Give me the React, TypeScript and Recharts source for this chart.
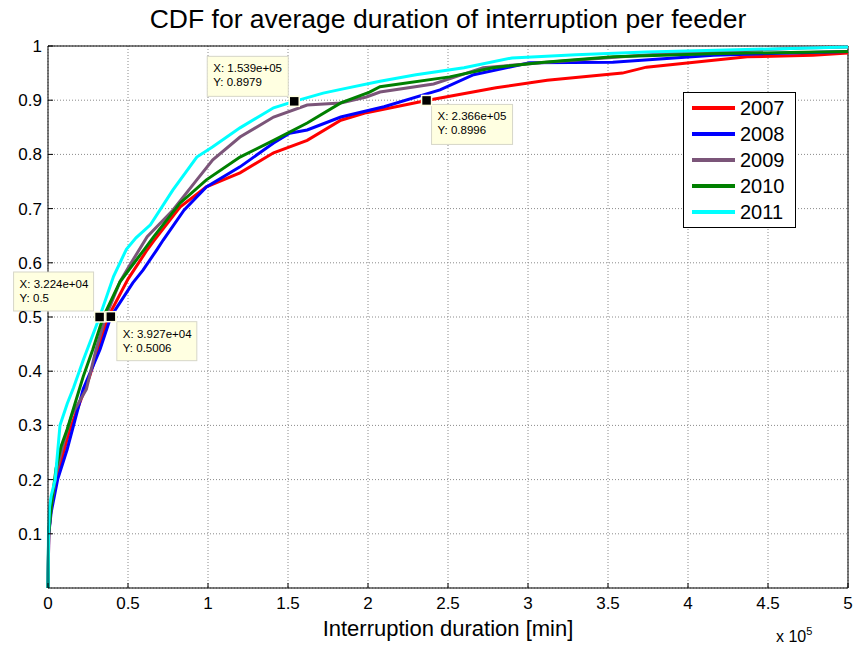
import React from "react";
import {
  LineChart, Line, XAxis, YAxis, CartesianGrid, ReferenceLine, ReferenceDot,
} from "recharts";

// durations in units of 1e5 min, cumulative probability
const years = ["2007", "2008", "2009", "2010", "2011"];
const colors = ["#ff0000", "#0000ff", "#7b5579", "#008000", "#00ffff"];

const cdf2007 = [
  [0, 0], [0.005, 0.1], [0.02, 0.15], [0.06, 0.21], [0.137, 0.293], [0.26, 0.39], [0.375, 0.5],
  [0.5, 0.57], [0.62, 0.624], [0.66, 0.64], [0.825, 0.703], [0.99, 0.74], [1.2, 0.766],
  [1.41, 0.803], [1.62, 0.826], [1.83, 0.863], [1.99, 0.877], [2.075, 0.882], [2.366, 0.8996],
  [2.8, 0.923], [3.12, 0.937], [3.59, 0.95], [3.74, 0.961], [4.37, 0.98], [4.78, 0.983], [5, 0.987],
];
const cdf2008 = [
  [0, 0], [0.005, 0.1], [0.02, 0.14], [0.06, 0.2], [0.12, 0.256], [0.22, 0.367], [0.325, 0.44],
  [0.3927, 0.5006], [0.53, 0.563], [0.595, 0.587], [0.68, 0.624], [0.72, 0.642], [0.85, 0.697],
  [0.99, 0.74], [1.2, 0.777], [1.41, 0.821], [1.51, 0.839], [1.62, 0.845], [1.83, 0.869],
  [2.1, 0.888], [2.45, 0.919], [2.66, 0.947], [3.01, 0.969], [3.53, 0.97], [4.16, 0.983], [5, 0.99],
];
const cdf2009 = [
  [0, 0], [0.004, 0.1], [0.02, 0.15], [0.05, 0.21], [0.1, 0.27], [0.15, 0.32], [0.24, 0.367],
  [0.3, 0.44], [0.36, 0.5], [0.45, 0.565], [0.52, 0.6], [0.62, 0.648], [0.78, 0.697],
  [0.93, 0.753], [1.03, 0.79], [1.2, 0.832], [1.41, 0.869], [1.62, 0.891], [1.83, 0.895],
  [1.99, 0.906], [2.075, 0.915], [2.41, 0.93], [2.72, 0.96], [3.12, 0.97], [3.8, 0.985],
  [4.78, 0.997], [5, 0.998],
];
const cdf2010 = [
  [0, 0], [0.004, 0.1], [0.02, 0.15], [0.05, 0.22], [0.08, 0.26], [0.12, 0.293], [0.22, 0.39],
  [0.28, 0.44], [0.345, 0.5], [0.45, 0.565], [0.6, 0.624], [0.66, 0.648], [0.825, 0.71],
  [0.99, 0.753], [1.2, 0.795], [1.41, 0.826], [1.62, 0.858], [1.83, 0.895], [2.01, 0.915],
  [2.075, 0.925], [2.51, 0.943], [2.78, 0.96], [3.1, 0.97], [3.53, 0.98], [4.2, 0.986], [5, 0.99],
];
const cdf2011 = [
  [0, 0], [0.003, 0.1], [0.01, 0.15], [0.02, 0.17], [0.045, 0.2], [0.075, 0.3], [0.12, 0.34],
  [0.16, 0.37], [0.22, 0.42], [0.3224, 0.5], [0.41, 0.575], [0.49, 0.625], [0.55, 0.646],
  [0.64, 0.67], [0.78, 0.734], [0.93, 0.795], [1.03, 0.814], [1.2, 0.849], [1.41, 0.886],
  [1.539, 0.8979], [1.72, 0.913], [1.83, 0.92], [2.075, 0.935], [2.3, 0.947], [2.6, 0.96],
  [2.9, 0.978], [3.3, 0.984], [3.74, 0.989], [4.3, 0.993], [5, 0.998],
];
const allCdfs = [cdf2007, cdf2008, cdf2009, cdf2010, cdf2011];

const xTicks = [0, 0.5, 1, 1.5, 2, 2.5, 3, 3.5, 4, 4.5, 5];
const yTicks = [0, 0.1, 0.2, 0.3, 0.4, 0.5, 0.6, 0.7, 0.8, 0.9, 1];

// data cursor tips: x (1e5 min), y, label texts
const tipX = [1.539, 2.366, 0.3224, 0.3927];
const tipY = [0.8979, 0.8996, 0.5, 0.5006];
const tipTextX = ["X: 1.539e+05", "X: 2.366e+05", "X: 3.224e+04", "X: 3.927e+04"];
const tipTextY = ["Y: 0.8979", "Y: 0.8996", "Y: 0.5", "Y: 0.5006"];
// box placement relative to marker (style only)
const tipBox = [
  { dx: -87, dy: -45, w: 81, h: 40 },
  { dx: 5, dy: 4, w: 81, h: 40 },
  { dx: -86, dy: -45, w: 80, h: 39 },
  { dx: 6, dy: 5, w: 80, h: 39 },
];

const FONT = "'Liberation Sans', Arial, sans-serif";

const XTick = (props: any) => {
  const { x, y, payload } = props;
  return (
    <g>
      <line x1={x} x2={x} y1={y} y2={y - 5} stroke="#000" />
      <text x={x} y={y + 21} textAnchor="middle" fontSize={17} fontFamily={FONT} fill="#000">
        {payload.value}
      </text>
    </g>
  );
};

const YTick = (props: any) => {
  const { x, y, payload } = props;
  if (payload.value === 0) return <g />;
  return (
    <g>
      <line x1={x} x2={x + 5} y1={y} y2={y} stroke="#000" />
      <text x={x - 6} y={y + 6} textAnchor="end" fontSize={17} fontFamily={FONT} fill="#000">
        {payload.value}
      </text>
    </g>
  );
};

const makeTip = (i: number) => (props: any) => {
  const { cx, cy } = props;
  const b = tipBox[i];
  return (
    <g>
      <rect x={cx + b.dx} y={cy + b.dy} width={b.w} height={b.h} fill="#ffffe1" stroke="#d6d6c8" />
      <text x={cx + b.dx + 6} y={cy + b.dy + 16} fontSize={11.5} fontFamily={FONT} fill="#000">
        {tipTextX[i]}
      </text>
      <text x={cx + b.dx + 6} y={cy + b.dy + 30} fontSize={11.5} fontFamily={FONT} fill="#000">
        {tipTextY[i]}
      </text>
      <rect x={cx - 5} y={cy - 5} width={10} height={10} fill="#000" stroke="#ffffe1" strokeWidth={1.5} />
    </g>
  );
};

export default function App() {
  const series = allCdfs.map((pts) => pts.map(([x, y]) => ({ x, y })));
  return (
    <div style={{ position: "absolute", left: 0, top: 0, width: 854, height: 646, background: "#fff", fontFamily: FONT }}>
      <div style={{ position: "absolute", top: 4, left: 0, width: 896, textAlign: "center", fontSize: 26.5 }}>
        CDF for average duration of interruption per feeder
      </div>
      <LineChart width={854} height={646} margin={{ top: 46, right: 6, left: 8, bottom: 28 }}>
        <CartesianGrid stroke="#8a8a8a" strokeDasharray="1 2" horizontalValues={yTicks} verticalValues={xTicks} />
        <XAxis
          type="number" dataKey="x" domain={[0, 5]} ticks={xTicks} height={30}
          tickSize={0} tickMargin={0} tickLine={false} stroke="#000" tick={<XTick />}
          allowDuplicatedCategory={false}
        />
        <YAxis
          type="number" dataKey="y" domain={[0, 1]} ticks={yTicks} width={40}
          tickSize={0} tickMargin={0} tickLine={false} stroke="#000" tick={<YTick />}
        />
        <ReferenceLine y={1} stroke="#000" />
        <ReferenceLine x={5} stroke="#000" />
        {series.map((d, i) => (
          <Line
            key={years[i]} data={d} dataKey="y" name={years[i]} type="linear"
            stroke={colors[i]} strokeWidth={3} dot={false} isAnimationActive={false}
          />
        ))}
        {tipX.map((x, i) => (
          <ReferenceDot key={i} x={x} y={tipY[i]} r={5} shape={makeTip(i)} />
        ))}
      </LineChart>
      <div style={{ position: "absolute", left: 0, width: 896, textAlign: "center", top: 616, fontSize: 22 }}>
        Interruption duration [min]
      </div>
      <div style={{ position: "absolute", left: 776, top: 625, fontSize: 16 }}>
        x 10<sup style={{ fontSize: 11, verticalAlign: 7 }}>5</sup>
      </div>
      <div style={{ position: "absolute", left: 683, top: 92, width: 111, height: 134, border: "1px solid #000", background: "#fff" }}>
        {years.map((yr, i) => (
          <div key={yr} style={{ position: "absolute", left: 8, top: 3 + i * 26, height: 24, display: "flex", alignItems: "center" }}>
            <div style={{ width: 43, height: 4, background: colors[i] }} />
            <span style={{ marginLeft: 5, fontSize: 20 }}>{yr}</span>
          </div>
        ))}
      </div>
    </div>
  );
}
